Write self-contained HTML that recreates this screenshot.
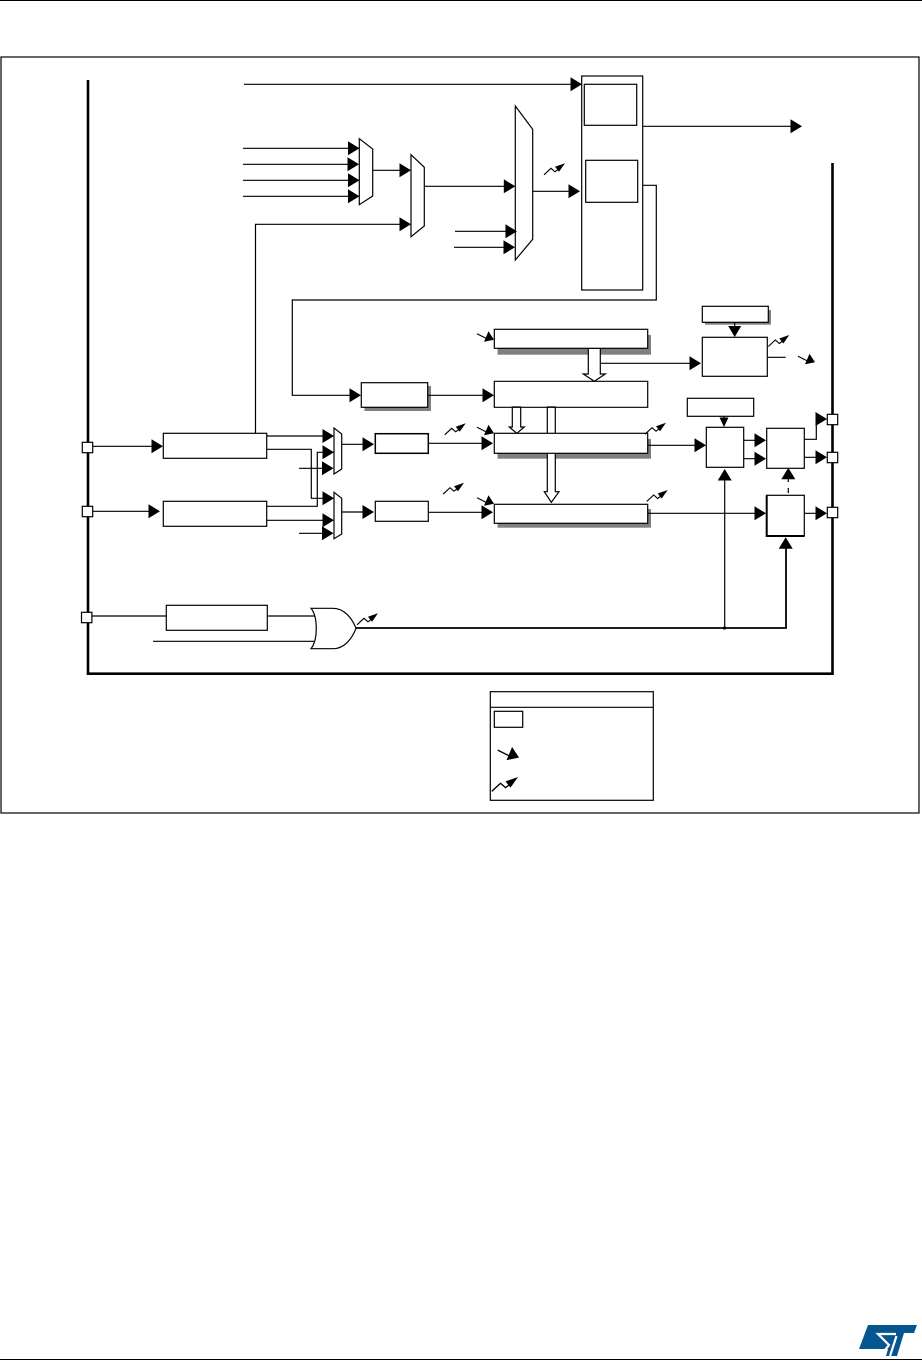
<!DOCTYPE html>
<html><head><meta charset="utf-8"><title>Block diagram</title>
<style>html,body{margin:0;padding:0;background:#fff}svg{display:block}</style></head>
<body>
<svg width="922" height="1361" viewBox="0 0 922 1361" xmlns="http://www.w3.org/2000/svg">
<defs>
<path id="r" d="M-11.500,-7L0,0L-11.500,7Z" fill="#000"/>
<path id="u" d="M-7,11.500L0,0L7,11.500Z" fill="#000"/>
<g id="zu"><path d="M-21,11.500L-14,5L-10,8.500L-6,5.500" fill="none" stroke="#000" stroke-width="1.100"/><path d="M0,0L-10,3.500L-6,8.500Z" fill="#000"/></g>
<g id="zd"><path d="M-17,-5.500L-5,0.500" fill="none" stroke="#000" stroke-width="1.100"/><path d="M0,0.500L-5.500,-8L-10,2.500Z" fill="#000"/></g>
</defs>
<rect width="922" height="1361" fill="#fff"/>
<rect x="0" y="0" width="922" height="1" fill="#000"/>
<rect x="0" y="1359" width="922" height="1" fill="#000"/>
<rect x="1" y="57" width="918" height="756" fill="none" stroke="#000" stroke-width="1.200"/>

<!-- shadows -->
<g fill="#808080">
<rect x="364.500" y="386" width="66.500" height="25"/>
<rect x="497.500" y="335" width="153.500" height="19.700"/>
<rect x="497.500" y="439" width="153.500" height="19.700"/>
<rect x="497.500" y="509" width="153.500" height="18.700"/>
<rect x="705" y="310" width="66" height="14.700"/>
<rect x="498" y="715" width="29" height="17"/>
</g>

<!-- hollow arrows (behind the boxes) -->
<g fill="#fff" stroke="#000" stroke-width="1.200">
<path d="M547.300,407V491.700H544.300L551.300,502.300L559,491.700H555.300V407Z"/>
<path d="M588.300,348.300V374H583.300L594.300,381.300L605.300,374H600.300V348.300Z"/>
<path d="M512.300,407V427H509.300L516.800,433.300L524.300,427H520.700V407Z"/>
</g>

<g fill="#fff" stroke="#000" stroke-width="1.200">
<!-- buses -->
<path d="M88,80V673.700H832.500V163" fill="none" stroke-width="2.600"/>
<!-- top block -->
<rect x="581.700" y="76" width="61" height="214"/>
<rect x="584.300" y="84.300" width="52.400" height="41"/>
<rect x="585.700" y="160.300" width="52" height="42"/>
<!-- boxes -->
<rect x="163.300" y="433.300" width="103.400" height="25"/>
<rect x="163.300" y="501.300" width="103.400" height="25"/>
<rect x="166.300" y="605.300" width="101" height="25"/>
<rect x="361.300" y="382.700" width="66.400" height="24.600"/>
<rect x="375.300" y="433.700" width="53" height="19.600" stroke-width="1.500"/>
<rect x="375.300" y="501.300" width="53" height="20"/>
<rect x="494.300" y="329.300" width="153.400" height="19"/>
<path d="M494.300,381.300H647.700V407.300H494.300Z" fill="none"/>
<rect x="494.300" y="433.300" width="153.400" height="20"/>
<rect x="494.300" y="504.300" width="153.400" height="19"/>
<rect x="702.300" y="306.300" width="66" height="16"/>
<rect x="702.300" y="337.300" width="65" height="39"/>
<rect x="687.300" y="398.300" width="66.400" height="18"/>
<rect x="706.300" y="427.300" width="37.400" height="40"/>
<rect x="766.700" y="428.300" width="37.600" height="40"/>
<rect x="766.700" y="495.300" width="37.600" height="40.700"/>
<path d="M766.700,495.300V536H804.300" fill="none" stroke-width="2"/>
<!-- muxes -->
<path d="M359.300,138.700L372.700,149V196L359.300,204.700Z"/>
<path d="M411,154.700L424.300,167.300V226L411,236.700Z"/>
<path d="M515.300,106L532.700,129.300V239.300L515.300,260Z"/>
<path d="M334,428L341.700,434V469L334,474Z"/>
<path d="M334,492.300L341.700,498.300V534L334,538.700Z"/>
<!-- OR gate -->
<path d="M311,608.300H333C344,608.300 352,618 356,628.300C352,639 344,648.700 333,648.700H311C318,640 318,617 311,608.300Z"/>
<!-- pins -->
<rect x="82.300" y="442.300" width="10.400" height="10.400"/>
<rect x="82.300" y="506.300" width="10.400" height="10.400"/>
<rect x="81.500" y="612.300" width="10.400" height="10.400"/>
<rect x="827.300" y="414.300" width="10.400" height="10.400"/>
<rect x="827.300" y="452.300" width="10.400" height="10.400"/>
<rect x="827.300" y="507.300" width="10.400" height="10.400"/>
<!-- legend -->
<rect x="490.300" y="691.700" width="163" height="108.600"/>
<path d="M490.300,707.300H653.300" fill="none"/>
<rect x="494.300" y="711.300" width="28.400" height="16"/>
</g>

<!-- connectors -->
<g fill="none" stroke="#000" stroke-width="1.200">
<path d="M244,84.300H572"/>
<path d="M643,126.300H792"/>
<path d="M243,148.300H350M243,164.300H350M243,180.300H350M243,196.300H350"/>
<path d="M373,170.300H402"/>
<path d="M424,186.300H506"/>
<path d="M533,191.300H570"/>
<path d="M455,231.300H507M454,247.300H505"/>
<path d="M255.500,433V224.300H402"/>
<path d="M643,185.300H656.300V300H292.300V395.300H352"/>
<path d="M93,446.300H153M93,511.300H150"/>
<path d="M267,436H325M267,449.300H311.300V498.300H325M267,506.300H317.300V452.300H325M299,468.300H325M267,520.300H325M299,533.300H325"/>
<path d="M342,444.300H365M342,512H365"/>
<path d="M428,395.300H485M428,443.300H484M428,512.300H484"/>
<path d="M600,363.300H691"/>
<path d="M734.700,322V328"/>
<path d="M767,357.300H785.700"/>
<path d="M648,445.300H696"/>
<path d="M724,416V420"/>
<path d="M744,440.300H756M744,458.700H756"/>
<path d="M648,513.300H756"/>
<path d="M724.700,478V628"/>
<path d="M804,439.300H816.300V419H818M804,457.300H818M804,513.300H818"/>
<path d="M788.300,478V482M788.300,488V493"/>
<path d="M92,616H166M267,616H315M153,641.300H315"/>
<path d="M356,628H786V546" stroke-width="1.800"/>
</g>
<circle cx="724.500" cy="628" r="1.600" fill="#000"/>

<!-- arrowheads -->
<use href="#r" x="582" y="84.300"/>
<use href="#r" x="802" y="126.300"/>
<use href="#r" x="359.500" y="148.300"/><use href="#r" x="359" y="164.300"/><use href="#r" x="359.500" y="180.300"/><use href="#r" x="359.500" y="196.300"/>
<use href="#r" x="411" y="170.300"/><use href="#r" x="411" y="224.300"/>
<use href="#r" x="515.300" y="186.300"/><use href="#r" x="517" y="231.300"/><use href="#r" x="515" y="247.300"/>
<use href="#r" x="580" y="191.300"/>
<use href="#r" x="361" y="395.300"/>
<use href="#r" x="163" y="446.300"/><use href="#r" x="160" y="511.300"/>
<use href="#r" x="334" y="436"/><use href="#r" x="334" y="452.300"/><use href="#r" x="333.500" y="468.300"/>
<use href="#r" x="334" y="498.300"/><use href="#r" x="334" y="520.300"/><use href="#r" x="333.500" y="533.300"/>
<use href="#r" x="374" y="444.300"/><use href="#r" x="374" y="512"/>
<use href="#r" x="494" y="395.300"/><use href="#r" x="493" y="443.300"/><use href="#r" x="493" y="512.300"/>
<use href="#r" x="701" y="363.300"/>
<use href="#r" x="706" y="445.300"/>
<use href="#r" x="766" y="440.300"/><use href="#r" x="766" y="458.700"/><use href="#r" x="766" y="513.300"/>
<use href="#r" x="827" y="419"/><use href="#r" x="827" y="457.300"/><use href="#r" x="827" y="513.300"/>
<path d="M728.200,326L734.700,337L741.200,326Z" fill="#000"/>
<path d="M719.500,417.500L724,427L728.500,417.500Z" fill="#000"/>
<use href="#u" x="724.700" y="469"/>
<use href="#u" x="788.300" y="467.700"/>
<use href="#u" x="785.700" y="537.300"/>

<!-- zigzags -->
<use href="#zu" x="565" y="163.300"/>
<use href="#zu" x="789.300" y="335"/>
<use href="#zu" x="666" y="422.700"/>
<use href="#zu" x="667.700" y="490"/>
<use href="#zu" x="465.700" y="423.300"/>
<use href="#zu" x="464" y="482.700"/>
<use href="#zu" x="378" y="613.300"/>
<use href="#zd" x="494" y="339.300"/>
<use href="#zd" x="815" y="361.700"/>
<use href="#zd" x="494" y="432.700"/>
<use href="#zd" x="494" y="503.300"/>
<use href="#zd" transform="translate(519,757) scale(1.250)"/>
<use href="#zu" transform="translate(518,777) scale(1.250)"/>

<!-- logo -->
<path d="M868,1325H917L914,1333H904L897,1356H886L888,1349H859Z" fill="#05568f"/>
<path d="M896,1334H878L889,1345L885,1350M896.500,1336L890,1356" fill="none" stroke="#fff" stroke-width="2.200"/>
</svg>
</body></html>
